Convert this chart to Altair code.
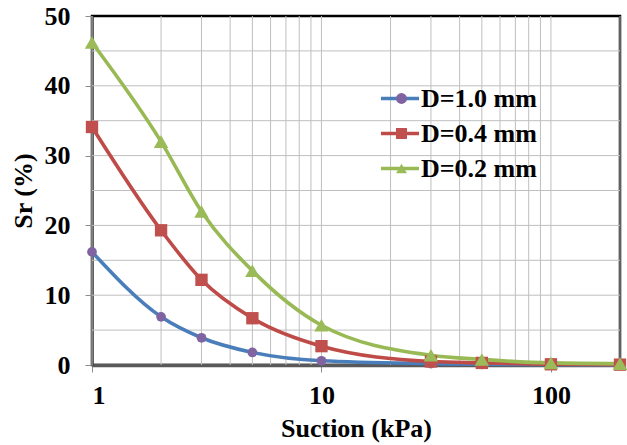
import altair as alt
import pandas as pd

suction = [1, 2, 3, 5, 10, 30, 50, 100, 200]
series_names = ["D=1.0 mm", "D=0.4 mm", "D=0.2 mm"]
sr_d10 = [16.2, 6.9, 3.9, 1.8, 0.6, 0.2, 0.1, 0.05, 0.0]
sr_d04 = [34.1, 19.3, 12.2, 6.7, 2.7, 0.5, 0.3, 0.1, 0.05]
sr_d02 = [46.2, 32.0, 22.0, 13.5, 5.7, 1.4, 0.8, 0.3, 0.2]

x_grid = [1, 2, 3, 4, 5, 6, 7, 8, 9, 10, 20, 30, 40, 50, 60, 70, 80, 90, 100, 200]
y_grid = [5, 10, 15, 20, 25, 30, 35, 40, 45]

line_colors = ["#4A7EBB", "#BE4B48", "#98B954"]
marker_colors = ["#8064A2", "#C0504D", "#9BBB59"]
marker_shapes = ["circle", "square", "triangle-up"]

rows = []
for name, vals in zip(series_names, [sr_d10, sr_d04, sr_d02]):
    for i, (s, v) in enumerate(zip(suction, vals)):
        rows.append({"Suction": s, "Sr": v, "Series": name, "Line": name, "order": i})
df = pd.DataFrame(rows)

FONT = "Liberation Serif"
FS = 26
xscale = alt.Scale(type="log", domain=[1, 200], nice=False)
yscale = alt.Scale(domain=[0, 50], nice=False)
xaxis = alt.Axis(title="Suction (kPa)", values=[1, 10, 100], format="d", grid=False)
yaxis = alt.Axis(title="Sr (%)", values=[0, 10, 20, 30, 40, 50], grid=False)

x = alt.X("Suction:Q", scale=xscale, axis=xaxis)
y = alt.Y("Sr:Q", scale=yscale, axis=yaxis)

vgrid = alt.Chart(pd.DataFrame({"g": x_grid})).mark_rule(color="#BFBFBF", strokeWidth=1).encode(
    x=alt.X("g:Q", scale=xscale, axis=xaxis))
hgrid = alt.Chart(pd.DataFrame({"g": y_grid})).mark_rule(color="#BFBFBF", strokeWidth=1).encode(
    y=alt.Y("g:Q", scale=yscale, axis=yaxis))

lines = alt.Chart(df).mark_line(interpolate="monotone", strokeWidth=3.6).encode(
    x=x, y=y,
    stroke=alt.Stroke("Line:N", sort=series_names,
                      scale=alt.Scale(range=line_colors),
                      legend=alt.Legend(title=None, orient="none", legendX=287, legendY=65,
                                        symbolType="stroke", symbolSize=1444, symbolStrokeWidth=3.6,
                                        clipHeight=35, rowPadding=0, padding=0,
                                        labelFont=FONT, labelFontWeight="bold", labelFontSize=FS,
                                        labelColor="black", labelOffset=0, zindex=1)),
    detail="Line:N",
    order="order:Q",
)

pleg = alt.Legend(title=None, orient="none", legendX=303, legendY=65,
                  clipHeight=35, rowPadding=0, padding=0, symbolSize=120,
                  labelExpr="''", labelFontSize=1, zindex=2)
points = alt.Chart(df).mark_point(filled=True, opacity=1).encode(
    x=x, y=y,
    fill=alt.Fill("Series:N", sort=series_names,
                  scale=alt.Scale(domain=series_names, range=marker_colors), legend=pleg),
    shape=alt.Shape("Series:N", sort=series_names,
                    scale=alt.Scale(domain=series_names, range=marker_shapes), legend=pleg),
    size=alt.Size("Series:N", scale=alt.Scale(domain=series_names, range=[95, 210, 250]), legend=None),
)

chart = alt.layer(vgrid, hgrid, lines, points).resolve_scale(
    stroke="independent", fill="independent", shape="independent"
).resolve_legend(
    stroke="independent", fill="independent", shape="independent"
).properties(
    width=528, height=349,
    padding={"left": 92, "top": 16, "right": 7, "bottom": 80},
    autosize=alt.AutoSizeParams(type="none"),
).configure_view(
    stroke="black", strokeWidth=2.5
).configure_axis(
    labelFont=FONT, labelFontWeight="bold", labelFontSize=FS, labelColor="black",
    titleFont=FONT, titleFontWeight="bold", titleFontSize=FS, titleColor="black",
    tickColor="#8C8C8C", tickSize=7, domainColor="#404040", domainWidth=2.5,
).configure_axisY(
    labelPadding=15, titlePadding=8,
).configure_axisX(
    labelPadding=10, titlePadding=7, domainColor="#595959", domainWidth=3.5,
)

chart.save("out.html", embed_options={"renderer": "svg", "actions": False})
